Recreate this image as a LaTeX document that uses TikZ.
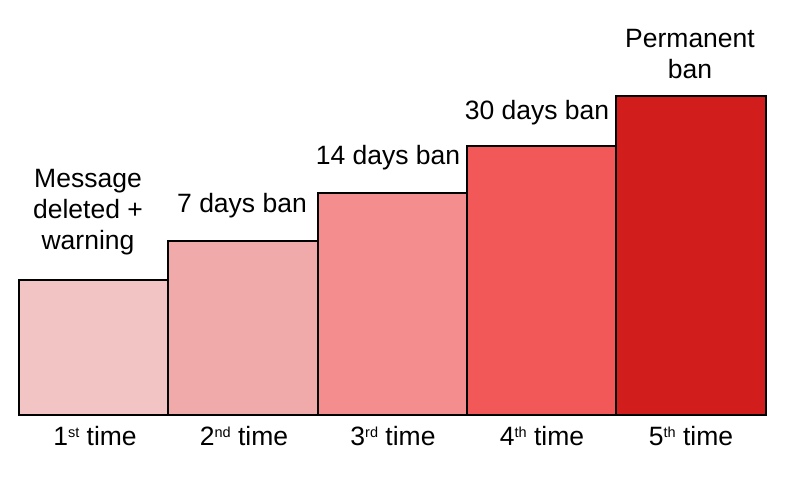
\documentclass[tikz,border=0pt]{standalone}
\usepackage{fontspec}
\setmainfont{Liberation Sans}
\definecolor{c1}{HTML}{F2C4C4}
\definecolor{c2}{HTML}{F1AAAA}
\definecolor{c3}{HTML}{F48E8E}
\definecolor{c4}{HTML}{F35858}
\definecolor{c5}{HTML}{D21D1D}
\newcommand{\ordsup}[1]{\raisebox{7.5pt}{\fontsize{14.5}{14.5}\selectfont #1}}
\begin{document}
\begin{tikzpicture}[x=1pt,y=-1pt,
  barbox/.style={draw=black,line width=2.2pt},
  lbl/.style={anchor=base,inner sep=0pt,font=\fontsize{26.5}{31}\selectfont,align=center}]
\useasboundingbox (0,0) rectangle (800,477);
\draw[barbox,fill=c1] (19,280) rectangle (168,415);
\draw[barbox,fill=c2] (168,241) rectangle (318,415);
\draw[barbox,fill=c3] (318,193) rectangle (467,415);
\draw[barbox,fill=c4] (467,146) rectangle (616,415);
\draw[barbox,fill=c5] (616,96) rectangle (766,415);
\node[lbl] (t1) at (88,249) {Message\\deleted +\\warning};
\node[lbl] (t2) at (242,212) {7 days ban};
\node[lbl] (t3) at (388,164) {14 days ban};
\node[lbl] (t4) at (537,119) {30 days ban};
\node[lbl] (t5) at (690,78) {Permanent\\ban};
\node[lbl] (b1) at (95,445) {1\ordsup{st} time};
\node[lbl] (b2) at (244,445) {2\ordsup{nd} time};
\node[lbl] (b3) at (393,445) {3\ordsup{rd} time};
\node[lbl] (b4) at (542,445) {4\ordsup{th} time};
\node[lbl] (b5) at (691,445) {5\ordsup{th} time};
\end{tikzpicture}
\end{document}
